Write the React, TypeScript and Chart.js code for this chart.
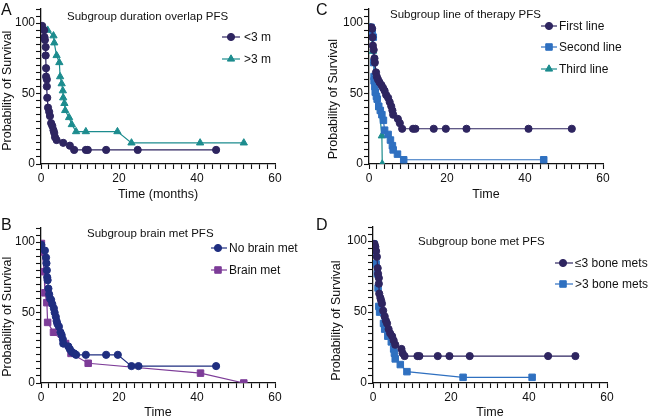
import React, { useEffect, useRef } from 'react';
import { Chart, registerables } from 'chart.js';

Chart.register(...registerables);

const FONT = "'Liberation Sans', Arial, Helvetica, sans-serif";

// ---------- Data ----------
const xTickLabels = [0, 20, 40, 60];
const yTickLabels = [0, 50, 100];

// Panel A
const aShortX = [0.3, 0.8, 0.9, 1.0, 1.2, 1.2, 1.3, 1.3, 1.5, 1.5, 1.6, 1.8, 2.1, 2.3, 2.6, 2.9, 3.2, 3.4, 3.6, 4.0, 5.7, 7.4, 8.5, 11.5, 12.0, 16.7, 24.8, 44.9];
const aShortY = [98, 95, 90, 88, 83, 77, 68, 62, 60, 55, 47, 40, 37, 34, 29, 27, 24, 22, 19, 17, 15, 13, 10, 10, 10, 10, 10, 10];
const aLongX = [0.3, 1.7, 3.2, 3.4, 4.0, 4.7, 4.9, 5.3, 5.6, 5.7, 6.0, 6.2, 7.2, 7.9, 9.0, 11.5, 19.6, 23.2, 40.8, 52];
const aLongY = [97, 95, 91, 86, 77, 72, 62, 57, 52, 47, 43, 38, 33, 28, 23, 23, 23, 15, 15, 15];

// Panel C
const cFirstX = [0.6, 0.8, 0.9, 1.0, 1.2, 1.4, 1.5, 1.8, 2.0, 2.3, 2.7, 3.2, 3.6, 4.0, 4.4, 4.9, 5.3, 5.7, 6.0, 6.2, 7.4, 7.9, 8.5, 11.3, 11.9, 16.6, 19.7, 25.0, 40.9, 52];
const cFirstY = [97, 96, 90, 84, 81, 75, 72, 65, 62, 60, 58, 56, 54, 52, 49, 47, 44, 41, 38, 35, 32, 29, 25, 25, 25, 25, 25, 25, 25, 25];
const cSecondX = [0.5, 0.8, 1.1, 1.2, 1.3, 1.3, 1.5, 1.6, 1.9, 2.1, 2.5, 2.9, 3.3, 3.7, 4.0, 4.9, 5.5, 6.0, 6.2, 7.3, 8.9, 44.8];
const cSecondY = [97, 94, 90, 72, 62, 59, 55, 51, 48, 46, 41, 38, 35, 31, 24, 21, 17, 13, 10, 7, 3, 3];
const cThirdX = [0.3, 1.0, 1.6, 2.6, 3.3, 3.4];
const cThirdY = [97, 80, 60, 40, 20, 0];

// Panel B
const bNoBrainX = [0.1, 1.0, 1.3, 1.4, 1.5, 1.6, 1.7, 1.9, 2.1, 2.3, 2.6, 2.9, 3.3, 3.5, 3.8, 4.0, 4.2, 4.6, 5.0, 5.3, 5.6, 5.7, 7.0, 7.4, 7.9, 8.5, 9.0, 11.5, 16.7, 19.7, 23.2, 25.0, 44.9];
const bNoBrainY = [98, 94, 89, 85, 80, 75, 73, 67, 63, 60, 59, 56, 53, 50, 47, 44, 42, 40, 36, 34, 31, 28, 26, 24, 22, 21, 20, 20, 20, 20, 12, 12, 12];
const bBrainX = [0.1, 0.3, 0.8, 1.0, 1.5, 1.7, 3.2, 6.3, 7.7, 12.1, 40.9, 52];
const bBrainY = [99, 93, 79, 64, 57, 43, 36, 28, 21, 14, 7, 0];

// Panel D
const dLeX = [0.2, 0.4, 0.6, 0.8, 1.0, 1.2, 1.3, 1.5, 1.5, 1.6, 1.9, 2.1, 2.3, 2.6, 3.0, 3.3, 3.6, 4.0, 4.4, 4.9, 5.3, 5.7, 7.3, 7.6, 8.1, 11.4, 11.9, 16.6, 19.6, 24.8, 44.9, 51.9];
const dLeY = [98, 98, 96, 93, 89, 81, 77, 74, 70, 63, 60, 58, 56, 51, 47, 44, 42, 38, 35, 33, 30, 27, 24, 21, 19, 19, 19, 19, 19, 19, 19, 19];
const dGtX = [0.2, 0.4, 0.8, 1.1, 1.3, 1.5, 1.7, 2.7, 3.0, 3.8, 4.7, 5.3, 5.5, 5.7, 7.0, 8.7, 23.1, 40.8];
const dGtY = [98, 91, 84, 77, 67, 54, 50, 42, 38, 33, 29, 24, 21, 17, 13, 8, 4, 4];

// ---------- Styles ----------
const DARK = '#2E2560';
const TEAL = '#1C8C8E';
const BLUE = '#2F70C0';
const NAVY = '#1F2E80';
const PURPLE = '#7D3C98';

type PStyle = 'circle' | 'triangle' | 'rect';
type Series = { label: string; x: number[]; y: number[]; color: string; style: PStyle; radius: number };

type PanelCfg = {
  left: number; top: number; w: number; h: number;
  area: { l: number; r: number; t: number; b: number };
  yw: number; xh: number;
  xTitle: string; xTitlePad: number;
  yTitleX: number; yTitleAt: number;
  letter: string; letterX: number; letterY: number;
  title: string; titleX: number; titleY: number;
  legLine: [number, number]; legMark: number; legText: number; legY: number[];
  series: Series[];
};

const panels: PanelCfg[] = [
  {
    left: 0, top: 0, w: 312, h: 210,
    area: { l: 41, r: 275, t: 9, b: 164 }, yw: 41, xh: 46,
    xTitle: 'Time (months)', xTitlePad: 8, yTitleX: 8, yTitleAt: 52,
    letter: 'A', letterX: 1, letterY: 15,
    title: 'Subgroup duration overlap PFS', titleX: 67, titleY: 17,
    legLine: [222, 240], legMark: 231, legText: 244, legY: [37, 59],
    series: [
      { label: '<3 m', x: aShortX, y: aShortY, color: DARK, style: 'circle', radius: 3.6 },
      { label: '>3 m', x: aLongX, y: aLongY, color: TEAL, style: 'triangle', radius: 4.2 },
    ],
  },
  {
    left: 312, top: 0, w: 337, h: 210,
    area: { l: 57, r: 291, t: 9, b: 164 }, yw: 44, xh: 46,
    xTitle: 'Time', xTitlePad: 8, yTitleX: 22, yTitleAt: 46,
    letter: 'C', letterX: 4, letterY: 15,
    title: 'Subgroup line of therapy PFS', titleX: 78, titleY: 15,
    legLine: [229, 245], legMark: 237, legText: 247, legY: [26, 47, 69],
    series: [
      { label: 'First line', x: cFirstX, y: cFirstY, color: DARK, style: 'circle', radius: 3.6 },
      { label: 'Second line', x: cSecondX, y: cSecondY, color: BLUE, style: 'rect', radius: 4.6 },
      { label: 'Third line', x: cThirdX, y: cThirdY, color: TEAL, style: 'triangle', radius: 4.2 },
    ],
  },
  {
    left: 0, top: 210, w: 312, h: 209,
    area: { l: 41, r: 275, t: 18, b: 173 }, yw: 41, xh: 36,
    xTitle: 'Time', xTitlePad: -1.5, yTitleX: 8, yTitleAt: 47,
    letter: 'B', letterX: 1, letterY: 20,
    title: 'Subgroup brain met PFS', titleX: 87, titleY: 24,
    legLine: [211, 227], legMark: 218, legText: 229, legY: [38, 60],
    series: [
      { label: 'No brain met', x: bNoBrainX, y: bNoBrainY, color: NAVY, style: 'circle', radius: 3.6 },
      { label: 'Brain met', x: bBrainX, y: bBrainY, color: PURPLE, style: 'rect', radius: 4.6 },
    ],
  },
  {
    left: 312, top: 210, w: 337, h: 209,
    area: { l: 61, r: 295, t: 17, b: 173 }, yw: 44, xh: 36,
    xTitle: 'Time', xTitlePad: -1.5, yTitleX: 25, yTitleAt: 44,
    letter: 'D', letterX: 4, letterY: 20,
    title: 'Subgroup bone met PFS', titleX: 106, titleY: 32,
    legLine: [243, 261], legMark: 251, legText: 263, legY: [53, 74],
    series: [
      { label: '\u22643 bone mets', x: dLeX, y: dLeY, color: DARK, style: 'circle', radius: 3.6 },
      { label: '>3 bone mets', x: dGtX, y: dGtY, color: BLUE, style: 'rect', radius: 4.6 },
    ],
  },
];

function drawMarker(ctx: CanvasRenderingContext2D, style: PStyle, x: number, y: number, r: number, color: string) {
  ctx.save();
  ctx.fillStyle = color;
  ctx.strokeStyle = color;
  ctx.lineWidth = 1;
  ctx.beginPath();
  if (style === 'circle') {
    ctx.arc(x, y, r, 0, Math.PI * 2);
  } else if (style === 'triangle') {
    let a = 0;
    ctx.moveTo(x + Math.sin(a) * r, y - Math.cos(a) * r);
    a += (Math.PI * 2) / 3;
    ctx.lineTo(x + Math.sin(a) * r, y - Math.cos(a) * r);
    a += (Math.PI * 2) / 3;
    ctx.lineTo(x + Math.sin(a) * r, y - Math.cos(a) * r);
    ctx.closePath();
  } else {
    const s = r * Math.SQRT1_2;
    ctx.rect(x - s, y - s, 2 * s, 2 * s);
  }
  ctx.fill();
  ctx.stroke();
  ctx.restore();
}

function Panel({ cfg }: { cfg: PanelCfg }) {
  const ref = useRef<HTMLCanvasElement | null>(null);
  useEffect(() => {
    if (!ref.current) return;
    const font = { family: FONT, size: 12 };
    const deco = {
      id: 'deco',
      afterDraw(chart: any) {
        const ctx: CanvasRenderingContext2D = chart.ctx;
        ctx.save();
        ctx.fillStyle = '#111';
        // panel letter
        ctx.font = `16px ${FONT}`;
        ctx.textAlign = 'left';
        ctx.textBaseline = 'alphabetic';
        ctx.fillText(cfg.letter, cfg.letterX, cfg.letterY);
        // panel title
        ctx.font = `11.5px ${FONT}`;
        ctx.textBaseline = 'middle';
        ctx.fillText(cfg.title, cfg.titleX, cfg.titleY);
        // y title
        const ys = chart.scales.y;
        ctx.save();
        ctx.font = `12.5px ${FONT}`;
        ctx.translate(cfg.yTitleX, ys.getPixelForValue(cfg.yTitleAt));
        ctx.rotate(-Math.PI / 2);
        ctx.textAlign = 'center';
        ctx.textBaseline = 'middle';
        ctx.fillText('Probability of Survival', 0, 0);
        ctx.restore();
        // legend
        cfg.series.forEach((s, i) => {
          const y = cfg.legY[i];
          ctx.strokeStyle = s.color;
          ctx.lineWidth = 1.2;
          ctx.beginPath();
          ctx.moveTo(cfg.legLine[0], y);
          ctx.lineTo(cfg.legLine[1], y);
          ctx.stroke();
          drawMarker(ctx, s.style, cfg.legMark, y, s.radius, s.color);
          ctx.fillStyle = '#111';
          ctx.font = `12px ${FONT}`;
          ctx.textAlign = 'left';
          ctx.textBaseline = 'middle';
          ctx.fillText(s.label, cfg.legText, y + 0.5);
        });
        ctx.restore();
      },
    };
    const chart = new Chart(ref.current, {
      type: 'scatter',
      data: {
        datasets: cfg.series.map((s) => ({
          label: s.label,
          data: s.x.map((xv, i) => ({ x: xv, y: s.y[i] })),
          showLine: true,
          borderColor: s.color,
          backgroundColor: s.color,
          borderWidth: 1.2,
          pointStyle: s.style,
          pointRadius: s.radius,
          pointBorderWidth: 1,
          pointBorderColor: s.color,
          pointBackgroundColor: s.color,
          tension: 0,
        })),
      },
      options: {
        animation: false,
        responsive: false,
        maintainAspectRatio: false,
        events: [],
        layout: {
          padding: {
            left: cfg.area.l - cfg.yw,
            right: cfg.w - cfg.area.r,
            top: cfg.area.t,
            bottom: cfg.h - cfg.area.b - cfg.xh,
          },
        },
        plugins: { legend: { display: false }, tooltip: { enabled: false }, title: { display: false } },
        scales: {
          x: {
            type: 'linear',
            min: 0,
            max: 60,
            afterFit: (s: any) => { s.height = cfg.xh; },
            border: { display: true, color: '#111', width: 1.3 },
            grid: { display: true, drawOnChartArea: false, drawTicks: true, tickLength: 5, tickColor: '#111', tickWidth: 1.1 },
            ticks: {
              stepSize: 2,
              autoSkip: false,
              maxRotation: 0,
              padding: 2,
              color: '#111',
              font,
              callback: (v: any) => (xTickLabels.includes(Number(v)) ? String(v) : ''),
            },
            title: { display: true, text: cfg.xTitle, color: '#111', font: { family: FONT, size: 12.5 }, padding: { top: 0, bottom: cfg.xTitlePad } },
          },
          y: {
            type: 'linear',
            min: 0,
            max: 110,
            afterFit: (s: any) => { s.width = cfg.yw; },
            border: { display: true, color: '#111', width: 1.3 },
            grid: { display: true, drawOnChartArea: false, drawTicks: true, tickLength: 5, tickColor: '#111', tickWidth: 1.1 },
            ticks: {
              stepSize: 5,
              autoSkip: false,
              padding: 1,
              color: '#111',
              font,
              callback: (v: any) => (yTickLabels.includes(Number(v)) ? String(v) : ''),
            },
            title: { display: false },
          },
        },
      },
      plugins: [deco],
    } as any);
    return () => chart.destroy();
  }, [cfg]);
  return (
    <canvas
      ref={ref}
      width={cfg.w}
      height={cfg.h}
      style={{ position: 'absolute', left: cfg.left, top: cfg.top, width: cfg.w, height: cfg.h }}
    />
  );
}

export default function App() {
  return (
    <div style={{ position: 'absolute', left: 0, top: 0, width: 649, height: 419, background: '#fff', overflow: 'hidden' }}>
      {panels.map((p) => (
        <Panel key={p.letter} cfg={p} />
      ))}
    </div>
  );
}
